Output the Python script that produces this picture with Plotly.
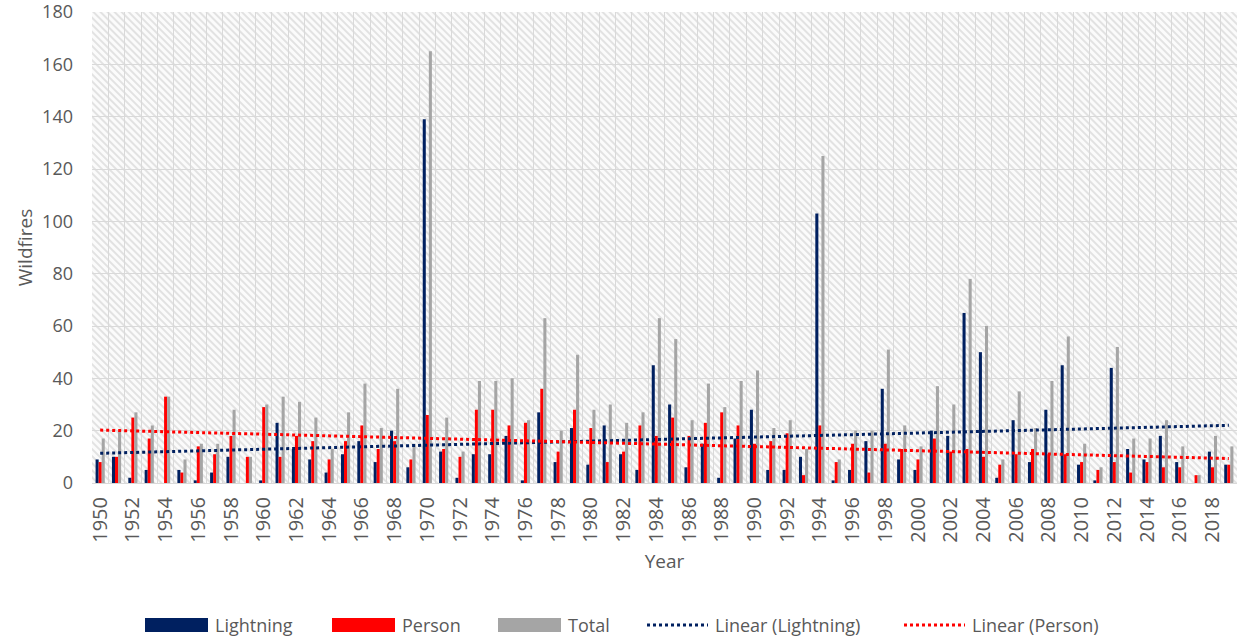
import base64
import numpy as np
import plotly.graph_objects as go

# Annual wildfire counts by cause
years = list(range(1950, 2020))
lightning = [9, 10, 2, 5, 0, 5, 1, 4, 10, 0,
             1, 23, 13, 9, 4, 11, 16, 8, 20, 6,
             139, 12, 2, 11, 11, 18, 1, 27, 8, 21,
             7, 22, 11, 5, 45, 30, 6, 15, 2, 17,
             28, 5, 5, 10, 103, 1, 5, 16, 36, 9,
             5, 20, 18, 65, 50, 2, 24, 8, 28, 45,
             7, 1, 44, 13, 9, 18, 8, 0, 12, 7]
person = [8, 10, 25, 17, 33, 4, 14, 11, 18, 10,
          29, 10, 18, 16, 9, 16, 22, 13, 16, 9,
          26, 13, 10, 28, 28, 22, 23, 36, 12, 28,
          21, 8, 12, 22, 18, 25, 18, 23, 27, 22,
          15, 16, 19, 3, 22, 8, 15, 4, 15, 13,
          9, 17, 12, 13, 10, 7, 11, 13, 11, 11,
          8, 5, 8, 4, 8, 6, 6, 3, 6, 7]
total = [17, 20, 27, 22, 33, 9, 15, 15, 28, 10,
         30, 33, 31, 25, 13, 27, 38, 21, 36, 15,
         165, 25, 12, 39, 39, 40, 24, 63, 20, 49,
         28, 30, 23, 27, 63, 55, 24, 38, 29, 39,
         43, 21, 24, 13, 125, 9, 20, 20, 51, 22,
         14, 37, 30, 78, 60, 9, 35, 21, 39, 56,
         15, 6, 52, 17, 17, 24, 14, 3, 18, 14]

NAVY = "#002060"
RED = "#ff0000"
GRAY = "#a5a5a5"
TEXT = "#595959"
GRID = "#d9d9d9"
FONT = "Open Sans"

W, H = 1239, 641
ML, MR, MT, MB = 92, 2, 12, 158
PW, PH = W - ML - MR, H - MT - MB

# Least-squares trend lines over the series index (1..n)
idx = np.arange(1, len(years) + 1)
trend_l = np.polyval(np.polyfit(idx, lightning, 1), idx)
trend_p = np.polyval(np.polyfit(idx, person, 1), idx)

fig = go.Figure()
fig.add_bar(x=years, y=lightning, name="Lightning", marker_color=NAVY, marker_line_width=0)
fig.add_bar(x=years, y=person, name="Person", marker_color=RED, marker_line_width=0)
fig.add_bar(x=years, y=total, name="Total", marker_color=GRAY, marker_line_width=0)
fig.add_scatter(x=years, y=trend_l, mode="lines", name="Linear (Lightning)",
                line=dict(color=NAVY, width=3, dash="dot"))
fig.add_scatter(x=years, y=trend_p, mode="lines", name="Linear (Person)",
                line=dict(color=RED, width=3, dash="dot"))

# Diagonal hatch fill for the plotting area
hatch_svg = (
    f'<svg xmlns="http://www.w3.org/2000/svg" width="{PW}" height="{PH}" '
    f'viewBox="0 0 {PW} {PH}" preserveAspectRatio="none">'
    '<defs><pattern id="h" width="5" height="5" patternUnits="userSpaceOnUse" '
    'patternTransform="rotate(-45)"><rect width="2" height="5" fill="#e2e2e2"/></pattern></defs>'
    f'<rect width="{PW}" height="{PH}" fill="#fbfbfb"/>'
    f'<rect width="{PW}" height="{PH}" fill="url(#h)"/></svg>'
)
hatch_uri = "data:image/svg+xml;base64," + base64.b64encode(hatch_svg.encode()).decode()


def px(xp):
    return (xp - ML) / PW


def py(yp):
    return (H - MB - yp) / PH


# Legend drawn below the axis: swatches and labels
shapes = []
annotations = []
legend_items = [
    ("Lightning", NAVY, "box", 145),
    ("Person", RED, "box", 332),
    ("Total", GRAY, "box", 498),
    ("Linear (Lightning)", NAVY, "dot", 645),
    ("Linear (Person)", RED, "dot", 902),
]
ly = 625
for label, color, kind, x0 in legend_items:
    x1 = x0 + 63
    if kind == "box":
        shapes.append(dict(type="rect", xref="paper", yref="paper",
                           x0=px(x0), x1=px(x1), y0=py(ly + 7), y1=py(ly - 7),
                           fillcolor=color, line=dict(width=0)))
    else:
        shapes.append(dict(type="line", xref="paper", yref="paper",
                           x0=px(x0 + 2), x1=px(x1), y0=py(ly), y1=py(ly),
                           line=dict(color=color, width=3, dash="dot")))
    annotations.append(dict(text=label, xref="paper", yref="paper",
                            x=px(x1 + 5), y=py(ly), xanchor="left", yanchor="middle",
                            showarrow=False, font=dict(family=FONT, size=18, color=TEXT)))

fig.update_layout(
    width=W, height=H,
    margin=dict(l=ML, r=MR, t=MT, b=MB),
    paper_bgcolor="white", plot_bgcolor="white",
    barmode="group", bargap=0.44, bargroupgap=0,
    showlegend=False,
    font=dict(family=FONT, color=TEXT),
    images=[dict(source=hatch_uri, xref="paper", yref="paper", x=0, y=1,
                 sizex=1, sizey=1, xanchor="left", yanchor="top",
                 sizing="stretch", layer="below")],
    shapes=shapes,
    annotations=annotations,
)

fig.update_xaxes(
    automargin=False,
    range=[years[0] - 0.5, years[-1] + 0.5],
    tickmode="linear", tick0=years[0], dtick=2,
    tickangle=-90, tickfont=dict(family=FONT, size=20, color=TEXT),
    showgrid=False, ticks="outside", ticklen=5, tickcolor="rgba(0,0,0,0)",
    ticklabeloverflow="allow",
    minor=dict(tick0=years[0] - 0.5, dtick=1, showgrid=True, gridcolor=GRID, gridwidth=1, ticks=""),
    showline=True, linecolor=GRID, linewidth=1,
    zeroline=False,
    title=dict(text="Year", font=dict(family=FONT, size=19, color=TEXT), standoff=12),
)
fig.update_yaxes(
    automargin=False,
    range=[0, 180], tickmode="linear", tick0=0, dtick=20,
    tickfont=dict(family=FONT, size=18, color=TEXT),
    showgrid=True, gridcolor=GRID, gridwidth=1,
    zeroline=False, ticks="", ticklabelstandoff=18, ticklabeloverflow="allow",
    title=dict(text="Wildfires", font=dict(family=FONT, size=19, color=TEXT), standoff=4),
)

fig.write_html("out.html")
